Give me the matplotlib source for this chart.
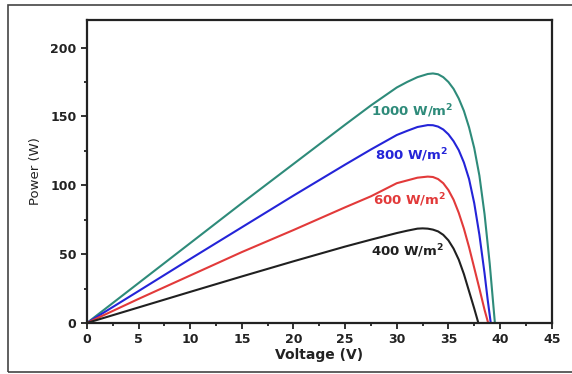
import matplotlib.pyplot as plt
from matplotlib.patches import Rectangle
from matplotlib.ticker import MultipleLocator

# P-V curves (voltage in V, power in W)
v_1000 = [0, 5, 10, 15, 20, 25, 27.5, 30, 31, 32, 33, 33.5, 34, 34.5, 35, 35.5, 36, 36.5, 37, 37.5, 38, 38.5, 39, 39.5]
p_1000 = [0, 29, 58, 87, 115.5, 144, 158, 171, 175, 178.5, 180.8, 181.2, 180.6, 178.5, 175, 170, 163, 154, 142, 127, 107, 79, 43, 0]

v_800 = [0, 5, 10, 15, 20, 25, 27.5, 30, 31, 32, 33, 33.5, 34, 34.5, 35, 35.5, 36, 36.5, 37, 37.5, 38, 38.5, 38.8, 39.1]
p_800 = [0, 23.2, 46.5, 69.5, 92.5, 115, 126, 136.5, 139.5, 142.3, 143.7, 143.6, 142.6, 140.5, 137, 132, 125.5, 116.5, 104.5, 87, 64, 36, 17, 0]

v_600 = [0, 5, 10, 15, 20, 25, 27.5, 30, 31, 32, 33, 33.5, 34, 34.5, 35, 35.5, 36, 36.5, 37, 37.5, 38, 38.5, 38.85]
p_600 = [0, 17.5, 34.5, 51.5, 67.5, 84, 92, 101.5, 103.5, 105.5, 106.3, 106, 104.5, 101.5, 96.5, 89.5, 80, 68.5, 55, 40, 25, 9.5, 0]

v_400 = [0, 5, 10, 15, 20, 25, 27.5, 30, 31, 32, 32.5, 33, 33.5, 34, 34.5, 35, 35.5, 36, 36.5, 37, 37.5, 37.9]
p_400 = [0, 11.3, 22.6, 33.8, 44.8, 55.5, 60.5, 65.3, 67, 68.5, 68.7, 68.5, 67.8, 66.5, 64, 60, 54, 46, 35.5, 23, 10.5, 0]

labels = ["1000 W/m$^\\mathbf{2}$", "800 W/m$^\\mathbf{2}$", "600 W/m$^\\mathbf{2}$", "400 W/m$^\\mathbf{2}$"]
label_x = [31.5, 31.4, 31.2, 31.1]
label_y = [154, 122, 89, 52]
colors = ['#2e8b7a', '#2424d8', '#e23a3a', '#202020']

fig = plt.figure(figsize=(5.72, 3.74), dpi=100)
ax = fig.add_axes([0.152, 0.1364, 0.8125, 0.8101])

curves = [(v_1000, p_1000), (v_800, p_800), (v_600, p_600), (v_400, p_400)]
for (v, p), c in zip(curves, colors):
    ax.plot(v, p, color=c, lw=1.5)

for txt, x, y, c in zip(labels, label_x, label_y, colors):
    ax.text(x, y, txt, color=c, fontsize=9.5, fontweight='bold', ha='center', va='center')

ax.set_xlim(0, 45)
ax.set_ylim(0, 220)
ax.xaxis.set_major_locator(MultipleLocator(5))
ax.xaxis.set_minor_locator(MultipleLocator(2.5))
ax.yaxis.set_major_locator(MultipleLocator(50))
ax.yaxis.set_minor_locator(MultipleLocator(25))
ax.tick_params(which='both', direction='out', width=1.3, colors='#222222', top=False, right=False)
ax.tick_params(which='major', length=4, labelsize=9)
ax.tick_params(which='minor', length=2.5)
for lab in ax.get_xticklabels() + ax.get_yticklabels():
    lab.set_fontweight('bold')
for s in ax.spines.values():
    s.set_linewidth(1.6)
    s.set_color('#222222')

ax.set_xlabel('Voltage (V)', fontsize=10, fontweight='bold', color='#222222', labelpad=1)
ax.set_ylabel('Power (W)', fontsize=9.5, color='#222222', labelpad=6)

# outer frame around the picture
fig.patches.append(Rectangle((8 / 572, 0.006), 1.2, 0.98, transform=fig.transFigure,
                             fill=False, edgecolor='#444444', lw=1.2))

fig.savefig('out.png', dpi=100)
